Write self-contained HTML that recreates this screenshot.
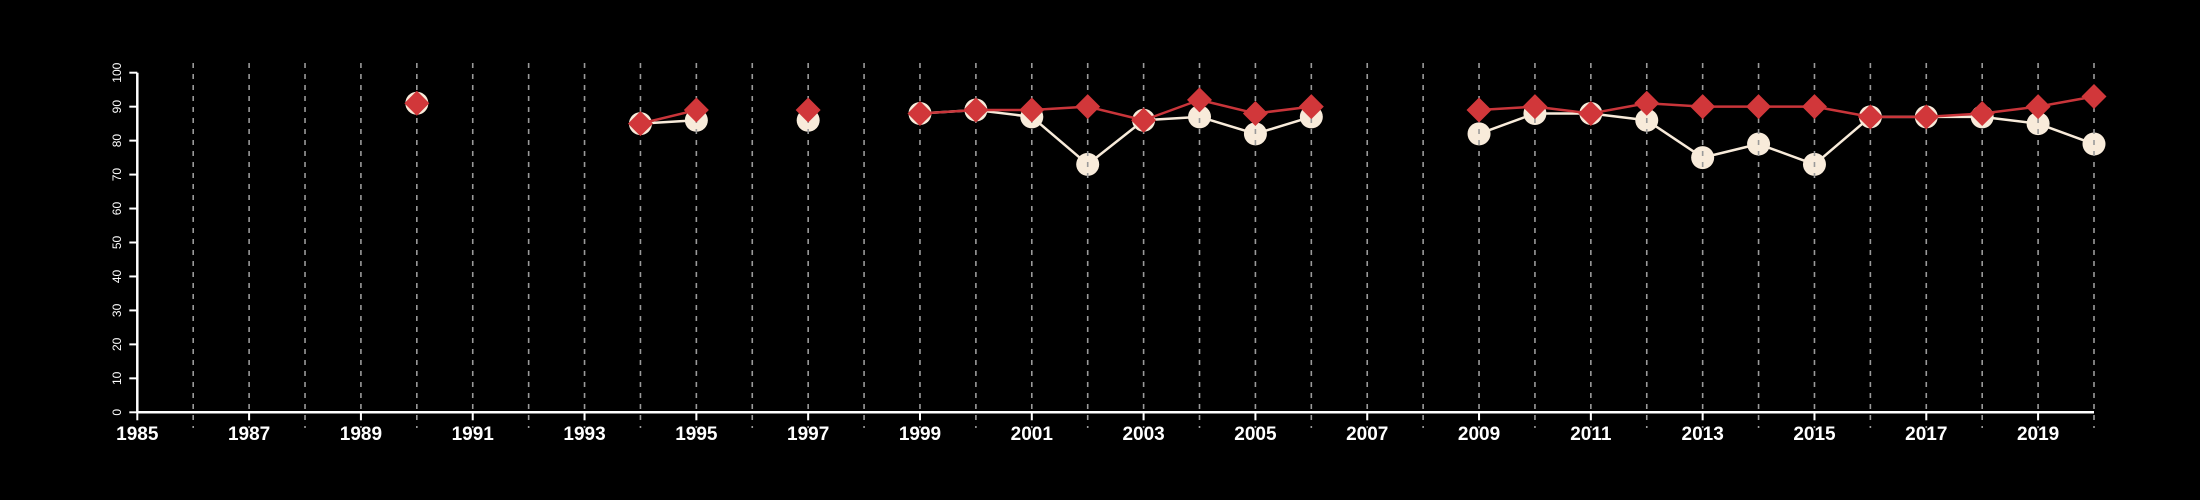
<!DOCTYPE html>
<html><head><meta charset="utf-8"><style>
html,body{margin:0;padding:0;background:#000;}
svg{display:block;font-family:"Liberation Sans",sans-serif;}
</style></head><body>
<svg id="chart" width="2200" height="500" viewBox="0 0 2200 500">
<rect width="2200" height="500" fill="#000"/>
<g id="white-series"></g>
<g id="grid"></g>
<g id="red-series"></g>
<g id="axes"></g>
</svg>
<script>
const years = [1990,1991,1992,1993,1994,1995,1996,1997,1998,1999,2000,2001,2002,2003,2004,2005,2006,2007,2008,2009,2010,2011,2012,2013,2014,2015,2016,2017,2018,2019,2020];
const seriesA = [91,null,null,null,85,86,null,86,null,88,89,87,73,86,87,82,87,null,null,82,88,88,86,75,79,73,87,87,87,85,79];
const seriesB = [91,null,null,null,85,89,null,89,null,88,89,89,90,86,92,88,90,null,null,89,90,88,91,90,90,90,87,87,88,90,93];
const xTicks = [1985,1987,1989,1991,1993,1995,1997,1999,2001,2003,2005,2007,2009,2011,2013,2015,2017,2019];
const yTicks = [0,10,20,30,40,50,60,70,80,90,100];

const NS="http://www.w3.org/2000/svg";
const x0=137.3,x1=2094,y0=412.3,y1=72.7;
const xs=y=>x0+(y-1985)*(x1-x0)/35;
const ys=v=>y0-(v)*(y0-y1)/100;
function mk(tag,attrs,parent){const e=document.createElementNS(NS,tag);for(const k in attrs)e.setAttribute(k,attrs[k]);parent.appendChild(e);return e;}
const gW=document.getElementById('white-series'),gG=document.getElementById('grid'),gR=document.getElementById('red-series'),gA=document.getElementById('axes');

function drawSeries(vals,g,color,width,isDiamond){
  for(let i=1;i<years.length;i++){
    if(vals[i]!=null&&vals[i-1]!=null&&years[i]-years[i-1]===1){
      const l=mk('line',{x1:xs(years[i-1]),y1:ys(vals[i-1]),x2:xs(years[i]),y2:ys(vals[i]),stroke:color,'stroke-width':width},g);
      
      
    }
  }
  years.forEach((yr,i)=>{
    if(vals[i]==null)return;
    const cx=xs(yr),cy=ys(vals[i]);
    let m;
    if(isDiamond){
      const r=12.5;
      m=mk('polygon',{points:`${cx},${cy-r} ${cx+r},${cy} ${cx},${cy+r} ${cx-r},${cy}`,fill:'#d1373a'},g);
      
    }else{
      m=mk('circle',{cx:cx,cy:cy,r:11.5,fill:'#f8ebda'},g);
      
    }
    
  });
}
drawSeries(seriesA,gW,'#f8ebda',2.5,false);
for(let yr=1986;yr<=2020;yr++){
  const l=mk('line',{x1:xs(yr),y1:63,x2:xs(yr),y2:428,stroke:'#9a9a9a','stroke-width':1.6,'stroke-dasharray':'5,6'},gG);
  
  
}
drawSeries(seriesB,gR,'#c9353a',2.5,true);

const xa=mk('line',{x1:x0,y1:y0,x2:x1,y2:y0,stroke:'#fff','stroke-width':2.5},gA);


const ya=mk('line',{x1:x0,y1:y0,x2:x0,y2:y1,stroke:'#fff','stroke-width':2.5},gA);


xTicks.forEach(t=>{
  const tk=mk('line',{x1:xs(t),y1:y0,x2:xs(t),y2:y0+8,stroke:'#fff','stroke-width':2},gA);
  
  
  const tx=mk('text',{x:xs(t),y:440,fill:'#fff','font-size':19,'font-weight':'bold','text-anchor':'middle'},gA);
  tx.textContent=t;
  
  
});
yTicks.forEach(t=>{
  const tk=mk('line',{x1:x0-8,y1:ys(t),x2:x0,y2:ys(t),stroke:'#fff','stroke-width':2},gA);
  
  
  const tx=mk('text',{x:0,y:0,fill:'#fff','font-size':12,'text-anchor':'middle',transform:`translate(121,${ys(t)}) rotate(-90)`},gA);
  tx.textContent=t;
  
  
});
</script>
</body></html>
